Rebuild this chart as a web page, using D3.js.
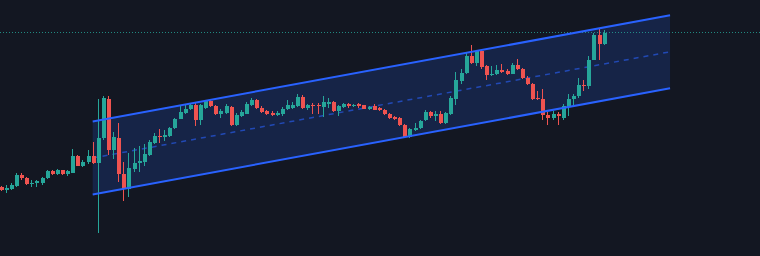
<!DOCTYPE html>
<html>
<head>
<meta charset="utf-8">
<script src="https://cdn.jsdelivr.net/npm/d3@7"></script>
<style>
  html, body { margin: 0; padding: 0; background: #131722; }
  svg { display: block; }
</style>
</head>
<body>
<svg id="chart" width="760" height="256"></svg>
<script>
// OHLC per bar
const opens  = [69,66.5,67,70.5,81.5,78.5,72.5,73,73.5,78.5,85,82,86,82.5,83.5,100.5,90.5,94.5,100,93,
  118,157,106,118.5,82.5,67.5,87.5,93.5,94,101,113.5,120.5,119.5,120.5,128.5,137.5,143.5,147,151,136,
  148.5,155,150.5,142.5,143.5,149.5,131.5,140,142.5,151,156,148.5,145,143.5,141,142,147.5,148.5,150.5,159.5,
  148.5,151.5,151.5,149.5,152.5,154.5,145,149.5,152.5,150.5,152,151,147.5,150.5,148.5,146.5,142.5,139.5,138,131,
  119.5,126,128.5,136,144.5,140,142,133.5,142,157.5,175.5,183.5,200,193.5,205.5,190,181,182,186.5,185,
  182.5,191.5,187.5,178.5,172,158.5,157.5,141,138.5,142,138.5,149.5,157.5,160,171,170.5,196.5,221,212];
const highs  = [70.5,71,73.5,83.5,83.5,79.5,76.5,76.5,79.5,86.5,86.5,87.5,86.5,86.5,107.5,101,96.5,106,114.5,157,
  160,160,124.5,133,94,103,108,110,112,116,123.5,127.5,126,129.5,138.5,151,152.5,153.5,154.5,152.5,
  156.5,156.5,151.5,147.5,152.5,150.5,143.5,146.5,154,158.5,157,150,146.5,145.5,145.5,149.5,156,154.5,162,161,
  152.5,153.5,153,160,158,155.5,151,153.5,153.5,152.5,153.5,151.5,150.5,152,149.5,147.5,143.5,140.5,139.5,132.5,
  128.5,133.5,136.5,146,145.5,145.5,145.5,144.5,160,184.5,187.5,203.5,211,206,206,191,190,191,192,187.5,
  193.5,197,188.5,180,173.5,165.5,167.5,144.5,145.5,144.5,152.5,162,162,178.5,176.5,200,223,228.5,226];
const lows   = [65,63,66,69.5,76.5,71.5,69.5,69.5,71.5,77,81,81.5,81.5,80.5,83.5,90.5,89.5,92.5,92.5,23,
  116,101,97.5,74.5,55.5,59,84.5,84.5,90,100,112.5,113.5,115.5,119.5,127.5,137,142.5,146,130,131,
  147.5,149.5,141,138,142.5,130,130,139.5,142,150.5,147.5,143.5,141.5,140,140,140.5,146.5,147.5,149.5,147.5,
  146,142.5,142,139.5,148,144.5,140.5,148.5,148.5,149.5,148.5,147,146.5,146,145.5,141,137.5,136,130,118.5,
  118.5,125.5,127.5,135,138.5,135.5,132.5,132.5,141,151,172,182.5,192.5,190,187.5,176.5,180.5,181.5,183.5,181.5,
  182,186,177.5,171,156.5,156,136,131,136,131,136,140,151,158.5,165.5,167.5,196,196,211];
const closes = [66.5,68.5,71,81,78.5,72,73.5,75,78.5,85.5,82,86,82,85,100.5,90.5,94.5,100,93.5,118,
  158,106,119.5,82.5,67.5,88.5,93.5,95,102,114.5,120.5,119.5,121.5,128.5,137.5,144.5,147.5,151.5,136,151.5,
  155,150,142,145,150.5,131.5,141.5,144.5,152.5,156,148.5,144.5,142.5,141.5,143.5,147.5,151,151,159.5,148.5,
  151,150,150,154,154.5,145.5,150.5,152.5,150,151.5,150,147.5,149.5,146.5,146.5,142,138.5,137,131,119.5,
  127,128.5,135.5,144.5,140,142,133.5,143.5,158.5,176,183.5,200,193.5,205.5,189.5,181,182.5,186.5,184.5,182,
  191.5,187.5,178.5,172,157.5,157.5,141,138.5,142,140,150,157.5,160,171,170,196.5,221,212,223.5];

// regression channel: bar range and prices at both ends
const channelBars  = [18, 131];
const channelUpper = [134.5, 240.7];
const channelMid   = [98, 204.2];
const channelLower = [61.5, 167.7];

const colors = { bg: "#131722", up: "#26a69a", down: "#ef5350", channel: "#2962ff" };

const width = 760, height = 256;
const bars = opens.map((o, i) => ({ i, o, h: highs[i], l: lows[i], c: closes[i] }));

const x = d3.scaleLinear().domain([-0.14, 148.6]).range([0, width]);
const y = d3.scaleLinear().domain([0, 256]).range([height, 0]);

const svg = d3.select("#chart");
svg.append("rect").attr("width", width).attr("height", height).attr("fill", colors.bg);

// channel fill
const corner = (b, p) => [x(b), y(p)];
const poly = [
    corner(channelBars[0], channelUpper[0]), corner(channelBars[1], channelUpper[1]),
    corner(channelBars[1], channelLower[1]), corner(channelBars[0], channelLower[0])
];
svg.append("path")
    .attr("d", "M" + poly.join("L") + "Z")
    .attr("fill", colors.channel)
    .attr("fill-opacity", 0.17);

const line = d3.line();
svg.append("path")
    .attr("d", line([corner(channelBars[0], channelMid[0]), corner(channelBars[1], channelMid[1])]))
    .attr("stroke", colors.channel)
    .attr("stroke-opacity", 0.6)
    .attr("stroke-width", 1.5)
    .attr("stroke-dasharray", "5 5")
    .attr("fill", "none");

// last price line
const last = closes[closes.length - 1];
svg.append("line")
    .attr("x1", 0).attr("x2", width)
    .attr("y1", Math.round(y(last)) - 0.5).attr("y2", Math.round(y(last)) - 0.5)
    .attr("stroke", colors.up)
    .attr("stroke-opacity", 0.8)
    .attr("stroke-dasharray", "1 2");

// candles
const g = svg.append("g").attr("shape-rendering", "crispEdges");
const candle = g.selectAll("g.bar").data(bars).join("g").attr("class", "bar");
candle.append("line")
    .attr("x1", d => Math.round(x(d.i)) + 0.5)
    .attr("x2", d => Math.round(x(d.i)) + 0.5)
    .attr("y1", d => y(d.h))
    .attr("y2", d => y(d.l))
    .attr("stroke", d => d.c >= d.o ? colors.up : colors.down);
candle.append("rect")
    .attr("x", d => Math.round(x(d.i)) - 1.5)
    .attr("width", 4)
    .attr("y", d => y(Math.max(d.o, d.c)))
    .attr("height", d => Math.max(1, Math.abs(y(d.o) - y(d.c))))
    .attr("fill", d => d.c >= d.o ? colors.up : colors.down);

// channel borders
[channelUpper, channelLower].forEach(band => {
    svg.append("path")
        .attr("d", line([corner(channelBars[0], band[0]), corner(channelBars[1], band[1])]))
        .attr("stroke", colors.channel)
        .attr("stroke-width", 2)
        .attr("fill", "none");
});
</script>
</body>
</html>
